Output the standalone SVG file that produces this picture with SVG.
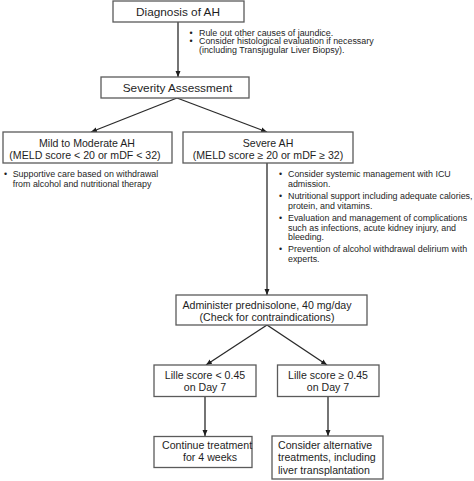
<svg xmlns="http://www.w3.org/2000/svg" width="474" height="481" viewBox="0 0 474 481">
<style>
.box{fill:#fff;stroke:#5a5a5a;stroke-width:1.3}
.t{font-family:"Liberation Sans",Arial,sans-serif;fill:#1e1e1e}
.ti{font-size:11.8px;text-anchor:middle}
.bx{font-size:10.6px}
.m{text-anchor:middle}
.b{font-size:8.9px}
.c{fill:none;stroke:#2a2a2a;stroke-width:1.3}
</style>
<defs>
<marker id="ah" markerWidth="6" markerHeight="6" viewBox="0 0 6 6" refX="6" refY="3" orient="auto" markerUnits="userSpaceOnUse">
<path d="M0,0.5 L6,3 L0,5.5 Z" fill="#1e1e1e"/>
</marker>
</defs>
<rect width="474" height="481" fill="#fff"/>
<g id="connectors">
<line class="c" x1="178" y1="22" x2="178" y2="77" marker-end="url(#ah)"/>
<line class="c" x1="177" y1="98" x2="91" y2="132" marker-end="url(#ah)"/>
<line class="c" x1="177" y1="98" x2="267" y2="132" marker-end="url(#ah)"/>
<line class="c" x1="267" y1="163" x2="267" y2="295" marker-end="url(#ah)"/>
<line class="c" x1="267" y1="325" x2="206" y2="365" marker-end="url(#ah)"/>
<line class="c" x1="267" y1="325" x2="327" y2="365" marker-end="url(#ah)"/>
<line class="c" x1="205" y1="397" x2="205" y2="436" marker-end="url(#ah)"/>
<line class="c" x1="328" y1="397" x2="328" y2="436" marker-end="url(#ah)"/>
</g>
<g id="diagnosis">
<rect class="box" x="113" y="1" width="131" height="21"/>
<text class="t ti" x="178" y="16">Diagnosis of AH</text>
</g>
<g id="diagnosis-notes" class="t b">
<text x="189.5" y="35.5">•</text><text x="199" y="35.5">Rule out other causes of jaundice.</text>
<text x="189.5" y="44">•</text><text x="199" y="44">Consider histological evaluation if necessary</text>
<text x="199" y="52.5">(including Transjugular Liver Biopsy).</text>
</g>
<g id="severity">
<rect class="box" x="101" y="77" width="148" height="21"/>
<text class="t ti" x="177.5" y="92">Severity Assessment</text>
</g>
<g id="mild">
<rect class="box" x="3" y="132" width="169" height="31"/>
<text class="t bx m" x="87" y="146.5">Mild to Moderate AH</text>
<text class="t bx m" x="85" y="158.5">(MELD score &lt; 20 or mDF &lt; 32)</text>
</g>
<g id="mild-notes" class="t b">
<text x="4" y="177">•</text><text x="12.7" y="177">Supportive care based on withdrawal</text>
<text x="12.7" y="187">from alcohol and nutritional therapy</text>
</g>
<g id="severe">
<rect class="box" x="183" y="132" width="170" height="31"/>
<text class="t bx m" x="268" y="146.5">Severe AH</text>
<text class="t bx m" x="268" y="158.5">(MELD score ≥ 20 or mDF ≥ 32)</text>
</g>
<g id="severe-notes" class="t b">
<text x="279" y="177.3">•</text><text x="288" y="177.3">Consider systemic management with ICU</text>
<text x="288" y="187.3">admission.</text>
<text x="279" y="198.7">•</text><text x="288" y="198.7">Nutritional support including adequate calories,</text>
<text x="288" y="208.7">protein, and vitamins.</text>
<text x="279" y="220.5">•</text><text x="288" y="220.5">Evaluation and management of complications</text>
<text x="288" y="230.5">such as infections, acute kidney injury, and</text>
<text x="288" y="240">bleeding.</text>
<text x="279" y="251.5">•</text><text x="288" y="251.5">Prevention of alcohol withdrawal delirium with</text>
<text x="288" y="261.5">experts.</text>
</g>
<g id="prednisolone">
<rect class="box" x="176" y="295" width="191" height="30"/>
<text class="t bx m" x="267" y="308.5">Administer prednisolone, 40 mg/day</text>
<text class="t bx m" x="267" y="320.5">(Check for contraindications)</text>
</g>
<g id="lille-low">
<rect class="box" x="154" y="365" width="102" height="31.5"/>
<text class="t bx m" x="205" y="379">Lille score &lt; 0.45</text>
<text class="t bx m" x="205" y="391">on Day 7</text>
</g>
<g id="lille-high">
<rect class="box" x="277.5" y="365" width="101.5" height="31.5"/>
<text class="t bx m" x="328" y="379">Lille score ≥ 0.45</text>
<text class="t bx m" x="328" y="391">on Day 7</text>
</g>
<g id="continue">
<rect class="box" x="154" y="436.5" width="98" height="31"/>
<text class="t bx" x="162" y="448.5">Continue treatment</text>
<text class="t bx" x="183" y="461">for 4 weeks</text>
</g>
<g id="alternative">
<rect class="box" x="272" y="436" width="111" height="43"/>
<text class="t bx" x="278" y="448.5">Consider alternative</text>
<text class="t bx" x="278" y="461">treatments, including</text>
<text class="t bx" x="278" y="473.5">liver transplantation</text>
</g>
</svg>
